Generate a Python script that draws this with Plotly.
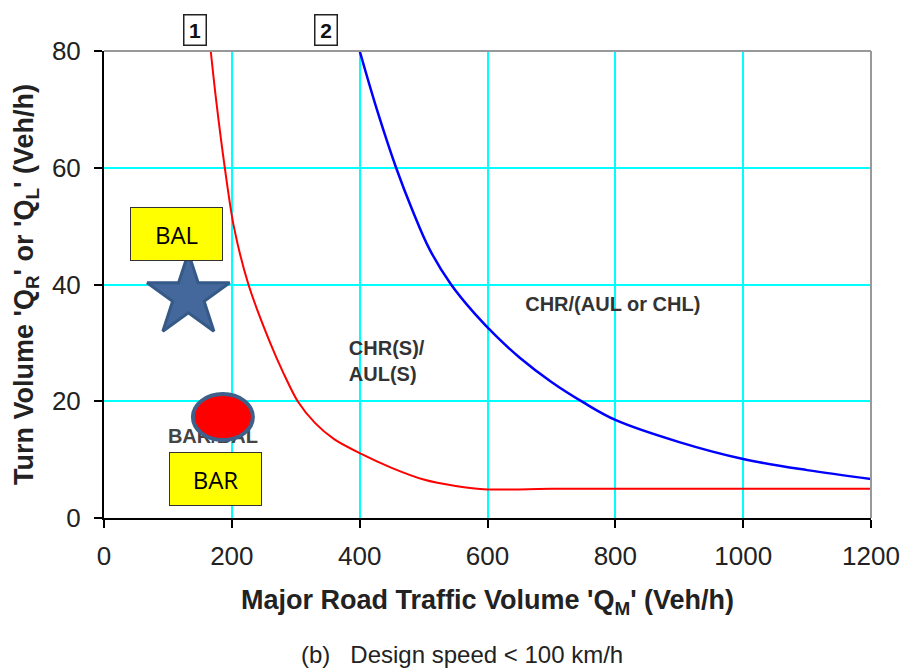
import plotly.graph_objects as go

# Curve 1 (red) : boundary between BAR/BAL and CHR(S)/AUL(S)
curve1_x = [167, 175, 189, 203, 226, 260, 280, 303, 330, 360, 400, 450, 500, 550, 600, 650, 700, 800, 1000, 1200]
curve1_y = [80, 72, 60, 50, 40, 30, 25, 20, 16.3, 13.5, 11.1, 8.6, 6.6, 5.5, 4.9, 4.9, 5.0, 5.0, 5.0, 5.0]
# Curve 2 (blue) : boundary between CHR(S)/AUL(S) and CHR/(AUL or CHL)
curve2_x = [400, 428, 457, 483, 509, 543, 580, 614, 650, 700, 750, 800, 900, 1000, 1100, 1200]
curve2_y = [80, 69.6, 60, 52.6, 46.1, 40.0, 35.0, 31.1, 27.5, 23.3, 19.8, 16.8, 13, 10.1, 8.2, 6.7]

# Region labels
region_text = ["CHR(S)/<br>AUL(S)", "CHR/(AUL or CHL)"]
region_x = [383, 659]
region_y = [26.5, 36.3]

bar_bal_text = ["BAR/BAL"]
bar_bal_x = [100]
bar_bal_y = [13.7]

# Highlighted points
star_x = [132]
star_y = [38]
circle_x = [186]
circle_y = [17.3]

# Yellow labels
box_text = ["BAL", "BAR"]
box_x = [113, 174]
box_y = [48.6, 6.7]

# Curve number tags above the chart
tag_text = ["1", "2"]
tag_x = [142, 347]

x_ticks = [0, 200, 400, 600, 800, 1000, 1200]
y_ticks = [0, 20, 40, 60, 80]

FONT = "Liberation Sans, Arial, sans-serif"

fig = go.Figure()

fig.add_trace(go.Scatter(x=curve1_x, y=curve1_y, mode="lines",
                         line=dict(color="#ff0000", width=2, shape="spline", smoothing=0.8),
                         hoverinfo="skip", showlegend=False))
fig.add_trace(go.Scatter(x=curve2_x, y=curve2_y, mode="lines",
                         line=dict(color="#0000ff", width=2.5, shape="spline", smoothing=1.0),
                         hoverinfo="skip", showlegend=False))

fig.add_trace(go.Scatter(x=region_x, y=region_y, mode="text", text=region_text,
                         textposition="middle right",
                         textfont=dict(family=FONT, size=20, color="#333333", weight="bold"),
                         hoverinfo="skip", showlegend=False))
fig.add_trace(go.Scatter(x=bar_bal_x, y=bar_bal_y, mode="text", text=bar_bal_text,
                         textposition="middle right",
                         textfont=dict(family=FONT, size=20, color="#444444", weight="bold"),
                         hoverinfo="skip", showlegend=False))

fig.add_trace(go.Scatter(x=star_x, y=star_y, mode="markers",
                         marker=dict(symbol="star", size=62, color="#44689b",
                                     line=dict(color="#365a87", width=3)),
                         hoverinfo="skip", showlegend=False))

shapes = []
for cx, cy in zip(circle_x, circle_y):
    shapes.append(dict(type="circle", xref="x", yref="y", layer="above",
                       xsizemode="pixel", ysizemode="pixel",
                       xanchor=cx, yanchor=cy, x0=-30, x1=30, y0=-23, y1=23,
                       fillcolor="#ff0000", line=dict(color="#3e5f8a", width=4)))
# top and right frame lines (gray)
shapes.append(dict(type="line", xref="x domain", yref="y domain", x0=0, x1=1, y0=1, y1=1,
                   line=dict(color="#999999", width=2), layer="above"))
shapes.append(dict(type="line", xref="x domain", yref="y domain", x0=1, x1=1, y0=0, y1=1,
                   line=dict(color="#999999", width=2), layer="above"))

annotations = []
for t, bx, by in zip(box_text, box_x, box_y):
    annotations.append(dict(x=bx, y=by, xref="x", yref="y", text=t, showarrow=False,
                            font=dict(family="Open Sans, sans-serif", size=24, color="#000000"),
                            bgcolor="#ffff00", bordercolor="#333333", borderwidth=1,
                            width=89, height=50, align="center", valign="middle"))
for t, tx in zip(tag_text, tag_x):
    annotations.append(dict(x=tx, y=1.0, xref="x", yref="paper", yanchor="bottom", yshift=5,
                            text="<b>%s</b>" % t, showarrow=False,
                            font=dict(family=FONT, size=21, color="#111111"),
                            bordercolor="#222222", borderwidth=1.5, borderpad=1,
                            width=19, height=27))
annotations.append(dict(x=0.5, y=-0.293, xref="paper", yref="paper", yanchor="middle",
                        xshift=-26,
                        text="(b)   Design speed &lt; 100 km/h", showarrow=False,
                        font=dict(family=FONT, size=24, color="#222222")))

fig.update_layout(
    width=904, height=670,
    margin=dict(l=104, r=33, t=51, b=152, autoexpand=False),
    paper_bgcolor="white", plot_bgcolor="white",
    font=dict(family=FONT, color="#222222"),
    shapes=shapes, annotations=annotations,
    showlegend=False,
)
fig.update_xaxes(range=[0, 1200], tickvals=x_ticks, ticks="outside", ticklen=8, tickwidth=1.5,
                 tickcolor="#000000", showline=True, linecolor="#000000", linewidth=2,
                 showgrid=True, gridcolor="#00ffff", gridwidth=2, zeroline=False,
                 ticklabelstandoff=6, automargin=False,
                 tickfont=dict(family=FONT, size=26, color="#222222"),
                 title=dict(text="<b>Major Road Traffic Volume 'Q<sub>M</sub>' (Veh/h)</b>",
                            font=dict(family=FONT, size=27, color="#222222"), standoff=20))
fig.update_yaxes(range=[0, 80], tickvals=y_ticks, ticks="outside", ticklen=8, tickwidth=1.5,
                 tickcolor="#000000", showline=True, linecolor="#000000", linewidth=2,
                 showgrid=True, gridcolor="#00ffff", gridwidth=2, zeroline=False,
                 ticklabelstandoff=8, automargin=False,
                 tickfont=dict(family=FONT, size=26, color="#222222"),
                 title=dict(text="<b>Turn Volume 'Q<sub>R</sub>' or 'Q<sub>L</sub>' (Veh/h)</b>",
                            font=dict(family=FONT, size=27, color="#222222"), standoff=10))

fig.write_html("out.html")
